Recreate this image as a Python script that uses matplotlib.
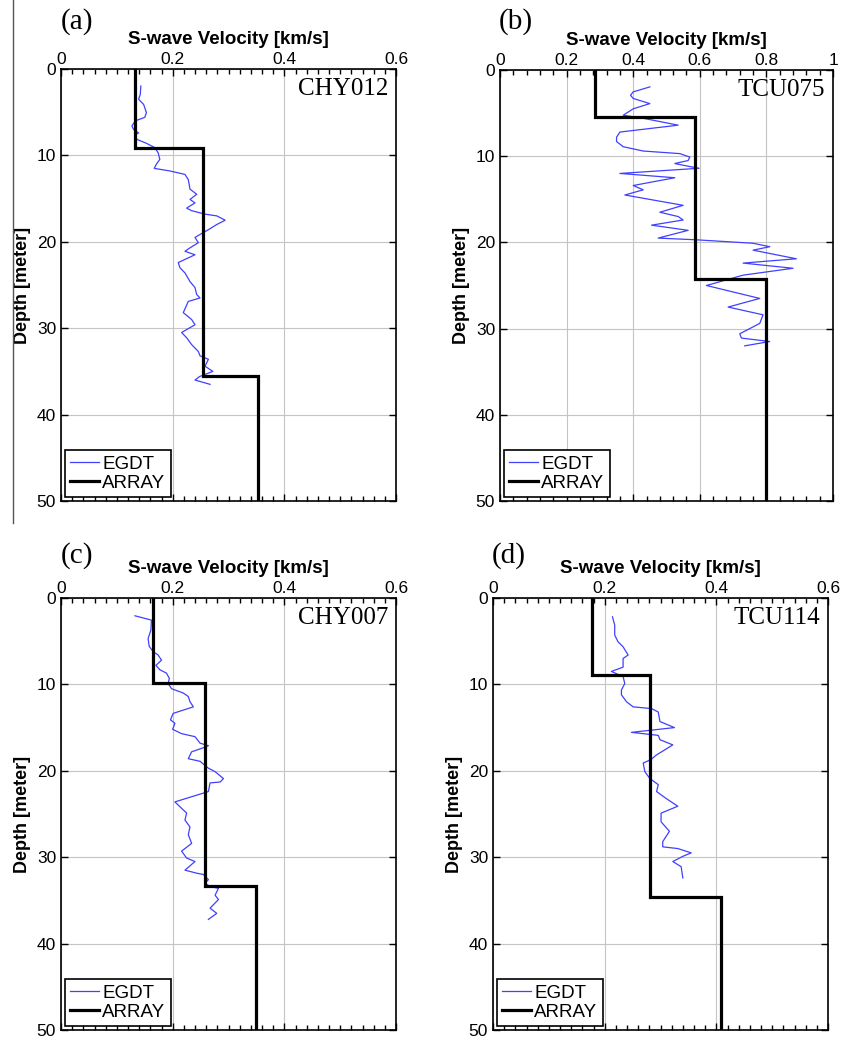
import numpy as np
import matplotlib
matplotlib.use("Agg")
import matplotlib.pyplot as plt
from matplotlib.ticker import MultipleLocator, FuncFormatter
from matplotlib.lines import Line2D

plt.rcParams['font.family'] = ['Liberation Sans', 'DejaVu Sans']

# ---------------- data ----------------
stations = ["CHY012", "TCU075", "CHY007", "TCU114"]
panel_letters = ["(a)", "(b)", "(c)", "(d)"]
x_max = [0.6, 1.0, 0.6, 0.6]

# ARRAY layered profiles (velocity per layer, layer boundary depths)
array_vs_a = [0.1325, 0.255, 0.353]
array_bd_a = [9.2, 35.5]
array_vs_b = [0.285, 0.585, 0.80]
array_bd_b = [5.5, 24.3]
array_vs_c = [0.1655, 0.258, 0.350]
array_bd_c = [9.8, 33.3]
array_vs_d = [0.178, 0.282, 0.409]
array_bd_d = [8.9, 34.6]

# EGDT profiles
egdt_depth_a = [1.97, 2.93, 3.5, 4.1, 5.06, 5.6, 6.0, 6.6, 7.0, 7.4, 7.6, 8.15, 8.6, 9.1, 9.7,
                10.46, 11.0, 11.5, 11.8, 12.2, 12.8, 13.9, 14.5, 15.1, 15.5, 16.1, 16.4, 16.8,
                17.0, 17.5, 18.0, 18.6, 19.15, 19.5, 20.1, 20.7, 21.1, 21.5, 22.4, 23.0, 23.6,
                24.6, 25.3, 26.1, 26.5, 26.9, 28.2, 29.0, 29.6, 30.5, 31.1, 31.9, 32.7, 33.2,
                33.6, 34.4, 35.0, 35.6, 36.0, 36.5]
egdt_vs_a = [0.143, 0.142, 0.139, 0.148, 0.153, 0.150, 0.133, 0.127, 0.130, 0.139, 0.133, 0.136,
             0.153, 0.168, 0.174, 0.177, 0.171, 0.167, 0.195, 0.222, 0.228, 0.231, 0.243, 0.231,
             0.240, 0.225, 0.234, 0.258, 0.279, 0.294, 0.279, 0.264, 0.249, 0.240, 0.246, 0.231,
             0.222, 0.240, 0.210, 0.213, 0.222, 0.231, 0.240, 0.243, 0.249, 0.228, 0.219, 0.234,
             0.240, 0.216, 0.225, 0.234, 0.246, 0.249, 0.264, 0.258, 0.272, 0.248, 0.240, 0.267]

egdt_depth_b = [1.96, 2.54, 2.93, 3.3, 3.9, 4.5, 5.25, 5.6, 6.4, 7.2, 7.8, 8.3, 8.9, 9.4, 9.7,
                10.1, 10.5, 10.85, 11.2, 11.4, 12.0, 12.5, 13.4, 13.9, 14.5, 15.7, 16.5, 17.0,
                17.4, 18.0, 18.6, 19.5, 19.7, 20.1, 20.5, 20.9, 21.9, 22.4, 23.0, 23.8, 25.0,
                26.5, 27.5, 28.4, 29.4, 30.6, 31.1, 31.5, 32.0]
egdt_vs_b = [0.45, 0.40, 0.392, 0.40, 0.45, 0.40, 0.37, 0.43, 0.535, 0.36, 0.35, 0.35, 0.37,
             0.43, 0.54, 0.57, 0.565, 0.525, 0.57, 0.598, 0.36, 0.525, 0.40, 0.43, 0.375, 0.55,
             0.48, 0.535, 0.55, 0.455, 0.565, 0.475, 0.59, 0.76, 0.81, 0.76, 0.89, 0.73, 0.88,
             0.73, 0.62, 0.78, 0.685, 0.79, 0.78, 0.72, 0.725, 0.81, 0.735]

egdt_depth_c = [2.06, 2.56, 3.7, 4.7, 5.6, 6.2, 6.6, 7.2, 7.8, 8.3, 8.7, 9.3, 9.9, 10.5, 11.0,
                11.4, 12.0, 12.6, 13.35, 14.1, 14.5, 15.2, 15.7, 16.05, 16.8, 17.1, 17.4, 17.8,
                18.6, 18.9, 19.7, 20.1, 20.9, 21.3, 21.4, 22.4, 23.6, 24.9, 25.7, 26.5, 27.4,
                28.4, 29.3, 30.1, 30.5, 31.5, 31.85, 32.0, 32.6, 33.0, 33.4, 33.6, 34.4, 34.9,
                35.9, 36.5, 37.2]
egdt_vs_c = [0.1325, 0.162, 0.161, 0.156, 0.158, 0.165, 0.174, 0.180, 0.170, 0.177, 0.189,
             0.194, 0.192, 0.198, 0.219, 0.228, 0.231, 0.237, 0.201, 0.196, 0.204, 0.200, 0.216,
             0.240, 0.249, 0.264, 0.252, 0.234, 0.228, 0.249, 0.264, 0.276, 0.291, 0.285, 0.267,
             0.264, 0.204, 0.225, 0.222, 0.231, 0.228, 0.234, 0.216, 0.225, 0.240, 0.222, 0.243,
             0.255, 0.264, 0.258, 0.267, 0.282, 0.276, 0.282, 0.267, 0.279, 0.264]

egdt_depth_d = [2.18, 3.14, 4.3, 5.07, 5.65, 6.6, 7.0, 8.0, 8.5, 9.1, 9.9, 10.65, 11.2, 12.0,
                12.6, 12.8, 13.2, 14.3, 15.0, 15.55, 15.9, 16.4, 17.0, 18.2, 18.7, 19.1, 20.1,
                20.9, 21.6, 22.4, 23.2, 24.1, 24.9, 25.9, 27.0, 28.2, 28.8, 29.0, 29.5, 29.9,
                30.5, 31.1, 32.4]
egdt_vs_d = [0.214, 0.218, 0.218, 0.224, 0.233, 0.242, 0.233, 0.233, 0.212, 0.233, 0.236,
             0.230, 0.230, 0.239, 0.251, 0.284, 0.296, 0.299, 0.325, 0.248, 0.296, 0.299, 0.322,
             0.292, 0.283, 0.269, 0.272, 0.281, 0.296, 0.293, 0.310, 0.331, 0.301, 0.301, 0.316,
             0.304, 0.304, 0.331, 0.355, 0.340, 0.322, 0.337, 0.340]

array_vs = [array_vs_a, array_vs_b, array_vs_c, array_vs_d]
array_bd = [array_bd_a, array_bd_b, array_bd_c, array_bd_d]
egdt_depth = [egdt_depth_a, egdt_depth_b, egdt_depth_c, egdt_depth_d]
egdt_vs = [egdt_vs_a, egdt_vs_b, egdt_vs_c, egdt_vs_d]
depth_max = 50

# ---------------- layout ----------------
W, H = 844, 1039
fig = plt.figure(figsize=(W / 100, H / 100), dpi=100)

# axes boxes in pixels: left, top, right, bottom
boxes = [(61, 69, 396, 501), (500, 70, 833, 501), (61, 598, 396, 1030), (493, 598, 828, 1030)]
letter_pos = [(77, 22), (516, 22), (77, 556), (509, 556)]
minor_step = [0.02, 0.04, 0.02, 0.02]

fmt = FuncFormatter(lambda v, p: f"{v:g}")

for i in range(4):
    l, t, r, b = boxes[i]
    ax = fig.add_axes([l / W, 1 - b / H, (r - l) / W, (b - t) / H])

    # ARRAY step profile
    vs = array_vs[i]
    bd = [0] + array_bd[i] + [depth_max]
    xs, ys = [], []
    for k, v in enumerate(vs):
        xs += [v, v]
        ys += [bd[k], bd[k + 1]]
    ax.plot(egdt_vs[i], egdt_depth[i], color='#4040ff', lw=0.9, label='EGDT', zorder=3)
    ax.plot(xs, ys, color='black', lw=2.3, label='ARRAY', zorder=4, solid_joinstyle='miter')

    ax.set_xlim(0, x_max[i])
    ax.set_ylim(depth_max, 0)
    ax.set_xticks(np.round(np.arange(0, x_max[i] + 1e-9, 0.2), 2))
    ax.xaxis.set_major_formatter(fmt)
    ax.xaxis.set_minor_locator(MultipleLocator(minor_step[i]))
    ax.set_yticks(np.arange(0, depth_max + 1, 10))

    ax.tick_params(axis='x', which='both', top=True, bottom=True, labeltop=True,
                   labelbottom=False, direction='in')
    ax.tick_params(axis='y', which='both', left=True, right=True, direction='in')
    ax.tick_params(which='major', length=5, width=1.0, labelsize=12.5)
    ax.tick_params(which='minor', length=3.5, width=1.0)
    ax.tick_params(axis='x', which='major', pad=1.5)
    ax.tick_params(axis='y', which='major', pad=3.5)

    ax.grid(True, which='major', color='#c4c4c4', lw=0.8)
    ax.set_axisbelow(True)
    for s in ax.spines.values():
        s.set_linewidth(1.2)
        s.set_color('black')

    ax.xaxis.set_label_position('top')
    ax.set_xlabel('S-wave Velocity [km/s]', fontweight='bold', fontsize=13.5, labelpad=6)
    ax.set_ylabel('Depth [meter]', fontweight='bold', fontsize=13, labelpad=4)

    ax.text(0.976, 1 - 20 / (b - t), stations[i], transform=ax.transAxes, ha='right',
            va='center', fontsize=18, family='Liberation Serif')

    leg = ax.legend(loc='lower left', fontsize=13.5, frameon=True, fancybox=False,
                    edgecolor='black', framealpha=1, borderaxespad=0.2, handlelength=1.5,
                    handletextpad=0.2, borderpad=0.3, labelspacing=0.1)
    leg.get_frame().set_linewidth(1.2)

    lx, ly = letter_pos[i]
    fig.text(lx / W, 1 - ly / H, panel_letters[i], ha='center', va='center', fontsize=21,
             family='Liberation Serif')

# stray vertical rule at the left edge of the upper row
fig.add_artist(Line2D([12.7 / W, 12.7 / W], [1, 1 - 523 / H], color='#555555', lw=1.0))

fig.savefig('out.png', dpi=100)
